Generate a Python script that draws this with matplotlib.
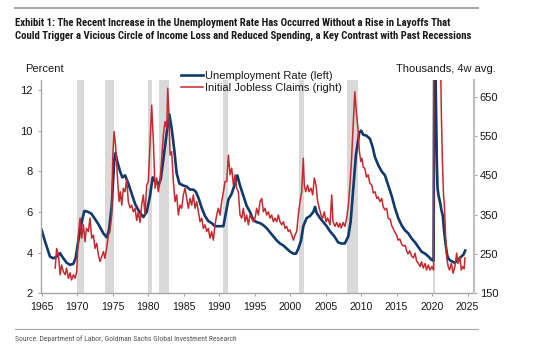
import matplotlib
matplotlib.use("Agg")
import matplotlib.pyplot as plt
from matplotlib import font_manager

# ---- data ----
unemp_year = [1965.0, 1965.47, 1965.94, 1966.17, 1966.64, 1967.11, 1967.58, 1968.05, 1968.52, 1968.99,
              1969.46, 1969.79, 1970.16, 1970.63, 1971.0, 1971.57, 1972.04, 1972.51, 1972.98, 1973.68,
              1974.15, 1974.48, 1974.86, 1975.23, 1975.4, 1975.56, 1976.03, 1976.36, 1976.74, 1977.2,
              1977.67, 1978.15, 1978.6, 1979.08, 1979.32, 1979.79, 1980.26, 1980.63, 1980.96, 1981.43,
              1981.76, 1982.14, 1982.61, 1982.98, 1983.31, 1983.69, 1984.01, 1984.39, 1984.95, 1985.42,
              1985.89, 1986.36, 1986.7, 1987.07, 1987.54, 1988.0, 1988.47, 1988.94, 1989.41, 1990.12,
              1990.59, 1990.96, 1991.29, 1991.76, 1992.23, 1992.56, 1992.93, 1993.4, 1993.87, 1994.34,
              1994.81, 1995.28, 1995.75, 1996.22, 1996.69, 1997.16, 1997.63, 1998.1, 1998.57, 1999.04,
              1999.51, 1999.98, 2000.45, 2000.82, 2001.15, 2001.53, 2001.85, 2002.32, 2002.79, 2003.26,
              2003.5, 2003.73, 2004.2, 2004.67, 2005.14, 2005.61, 2006.22, 2006.77, 2007.2, 2007.7,
              2008.18, 2008.51, 2008.89, 2009.26, 2009.73, 2010.0, 2010.29, 2010.76, 2011.23, 2011.61,
              2011.94, 2012.41, 2012.88, 2013.35, 2013.82, 2014.29, 2014.75, 2015.22, 2015.69, 2016.16,
              2016.63, 2017.1, 2017.6, 2018.1, 2018.5, 2019.0, 2019.5, 2019.9, 2020.2, 2020.3,
              2020.45, 2020.55, 2020.65, 2020.75, 2020.9, 2021.1, 2021.3, 2021.5, 2021.7, 2021.9,
              2022.1, 2022.3, 2022.6, 2022.9, 2023.2, 2023.5, 2023.8, 2024.1, 2024.4, 2024.65]
unemp_rate = [5.1, 4.55, 4.05, 3.8, 3.72, 3.8, 3.97, 3.72, 3.5, 3.4,
              3.45, 3.75, 4.6, 5.5, 6.05, 6.0, 5.9, 5.65, 5.4, 4.95,
              4.75, 5.1, 6.3, 8.6, 8.9, 8.6, 8.0, 7.7, 7.8, 7.4,
              6.9, 6.4, 6.1, 5.85, 5.75, 6.0, 6.8, 7.7, 7.5, 7.35,
              7.6, 8.6, 9.9, 10.8, 10.1, 9.0, 7.9, 7.4, 7.3, 7.25,
              7.1, 7.1, 7.0, 6.7, 6.2, 5.8, 5.55, 5.45, 5.3, 5.3,
              5.3, 6.0, 6.6, 6.9, 7.4, 7.8, 7.3, 6.8, 6.3, 6.0,
              5.6, 5.5, 5.45, 5.35, 5.2, 5.0, 4.8, 4.6, 4.45, 4.35,
              4.2, 4.05, 3.95, 3.95, 4.2, 4.6, 5.3, 5.7, 5.8, 6.0,
              6.25, 5.95, 5.7, 5.5, 5.3, 5.05, 4.8, 4.5, 4.45, 4.45,
              4.8, 5.5, 7.2, 8.8, 9.9, 10.0, 9.8, 9.75, 9.6, 9.2,
              8.7, 8.3, 8.0, 7.8, 7.3, 6.8, 6.2, 5.7, 5.35, 5.1,
              4.95, 4.7, 4.5, 4.25, 4.05, 3.95, 3.8, 3.65, 3.6, 14.7,
              13.3, 11.1, 8.6, 7.2, 6.8, 6.5, 6.1, 5.8, 5.0, 4.4,
              3.9, 3.7, 3.6, 3.55, 3.5, 3.6, 3.7, 3.8, 3.9, 4.1]

claims_year = [1966.9, 1967.1, 1967.35, 1967.6, 1967.8, 1968.05, 1968.3, 1968.5, 1968.75, 1969.0,
               1969.2, 1969.46, 1969.7, 1969.93, 1970.16, 1970.4, 1970.63, 1970.87, 1971.1, 1971.3,
               1971.57, 1971.8, 1972.04, 1972.28, 1972.5, 1972.75, 1972.98, 1973.2, 1973.45, 1973.7,
               1973.9, 1974.15, 1974.39, 1974.6, 1974.86, 1975.0, 1975.19, 1975.4, 1975.65, 1975.9,
               1976.08, 1976.27, 1976.5, 1976.74, 1976.97, 1977.2, 1977.44, 1977.67, 1977.9, 1978.15,
               1978.38, 1978.6, 1978.85, 1979.08, 1979.32, 1979.55, 1979.79, 1980.02, 1980.26, 1980.49,
               1980.73, 1980.96, 1981.2, 1981.43, 1981.67, 1981.9, 1982.14, 1982.37, 1982.61, 1982.75,
               1982.93, 1983.08, 1983.31, 1983.54, 1983.78, 1984.01, 1984.25, 1984.48, 1984.72, 1984.95,
               1985.19, 1985.42, 1985.66, 1985.89, 1986.13, 1986.36, 1986.6, 1986.83, 1987.07, 1987.3,
               1987.54, 1987.77, 1988.0, 1988.24, 1988.47, 1988.71, 1988.94, 1989.18, 1989.41, 1989.65,
               1989.88, 1990.12, 1990.35, 1990.59, 1990.82, 1991.06, 1991.29, 1991.53, 1991.76, 1992.0,
               1992.23, 1992.46, 1992.7, 1992.93, 1993.17, 1993.4, 1993.64, 1993.87, 1994.11, 1994.34,
               1994.58, 1994.81, 1995.05, 1995.28, 1995.52, 1995.75, 1995.99, 1996.22, 1996.46, 1996.69,
               1996.93, 1997.16, 1997.39, 1997.63, 1997.86, 1998.1, 1998.33, 1998.57, 1998.8, 1999.04,
               1999.27, 1999.51, 1999.74, 1999.98, 2000.21, 2000.45, 2000.68, 2000.92, 2001.15, 2001.38,
               2001.62, 2001.85, 2001.99, 2002.18, 2002.46, 2002.65, 2002.93, 2003.17, 2003.4, 2003.64,
               2003.87, 2004.11, 2004.34, 2004.58, 2004.81, 2005.05, 2005.28, 2005.61, 2005.85, 2006.03,
               2006.3, 2006.55, 2006.8, 2007.0, 2007.2, 2007.45, 2007.7, 2007.95, 2008.2, 2008.42,
               2008.65, 2008.88, 2009.1, 2009.35, 2009.55, 2009.75, 2009.95, 2010.1, 2010.3, 2010.5,
               2010.75, 2011.0, 2011.2, 2011.5, 2011.7, 2011.95, 2012.2, 2012.4, 2012.65, 2012.9,
               2013.1, 2013.35, 2013.6, 2013.8, 2014.1, 2014.3, 2014.5, 2014.75, 2015.0, 2015.2,
               2015.45, 2015.7, 2015.95, 2016.2, 2016.4, 2016.6, 2016.85, 2017.1, 2017.35, 2017.6,
               2017.8, 2018.0, 2018.3, 2018.5, 2018.75, 2019.0, 2019.2, 2019.45, 2019.7, 2019.95,
               2020.2, 2020.3, 2020.6, 2021.0, 2021.2, 2021.3, 2021.45, 2021.6, 2021.7, 2021.8,
               2021.9, 2022.05, 2022.25, 2022.45, 2022.7, 2022.95, 2023.2, 2023.45, 2023.65, 2023.9,
               2024.1, 2024.3, 2024.5, 2024.62]
claims_k = [214, 264, 248, 197, 222, 205, 197, 214, 188, 202,
            184, 197, 188, 205, 298, 341, 290, 324, 281, 315,
            307, 341, 290, 298, 264, 277, 248, 231, 243, 256,
            239, 264, 298, 307, 349, 493, 561, 527, 450, 383,
            408, 374, 417, 408, 440, 383, 367, 374, 357, 366,
            335, 357, 330, 374, 400, 350, 425, 434, 535, 628,
            535, 417, 443, 408, 434, 493, 553, 586, 569, 671,
            603, 501, 510, 434, 383, 400, 349, 374, 366, 400,
            417, 391, 366, 391, 374, 400, 366, 383, 357, 332,
            341, 315, 324, 307, 315, 290, 307, 285, 324, 349,
            366, 349, 383, 408, 434, 434, 501, 451, 468, 425,
            451, 417, 408, 349, 341, 366, 332, 349, 324, 349,
            341, 332, 341, 366, 349, 383, 391, 357, 366, 349,
            357, 341, 349, 332, 341, 332, 349, 332, 324, 332,
            315, 320, 307, 311, 298, 285, 298, 307, 349, 383,
            408, 493, 425, 408, 425, 408, 417, 400, 443, 425,
            383, 366, 349, 341, 357, 332, 341, 324, 400, 332,
            320, 330, 318, 328, 316, 330, 320, 340, 374, 425,
            493, 578, 662, 603, 569, 510, 485, 493, 470, 468,
            445, 451, 430, 425, 405, 408, 391, 395, 383, 391,
            370, 362, 366, 340, 338, 322, 315, 305, 298, 285,
            288, 275, 270, 272, 258, 250, 258, 245, 240, 252,
            232, 228, 218, 230, 214, 226, 209, 222, 209, 218,
            209, 3000, 1500, 850, 720, 600, 480, 400, 380, 340,
            290, 240, 218, 209, 226, 201, 218, 252, 226, 243,
            209, 218, 212, 240]

recession_start = [1969.92, 1973.85, 1980.0, 1981.5, 1990.55, 2001.2, 2007.95, 2020.15]
recession_end = [1970.9, 1975.25, 1980.55, 1982.92, 1991.2, 2001.9, 2009.5, 2020.35]

x_ticks = [1965, 1970, 1975, 1980, 1985, 1990, 1995, 2000, 2005, 2010, 2015, 2020, 2025]
left_ticks = [2, 4, 6, 8, 10, 12]
right_ticks = [150, 250, 350, 450, 550, 650]

title_lines = ["Exhibit 1: The Recent Increase in the Unemployment Rate Has Occurred Without a Rise in Layoffs That",
               "Could Trigger a Vicious Circle of Income Loss and Reduced Spending, a Key Contrast with Past Recessions"]
source_text = "Source: Department of Labor, Goldman Sachs Global Investment Research"


def condensed_font(bold):
    # look for a narrow / condensed face among the installed fonts
    prefs = ["Liberation Sans Narrow", "Arial Narrow", "Roboto Condensed", "Noto Sans",
             "Open Sans Condensed", "Open Sans", "DejaVu Sans Condensed", "DejaVu Sans"]
    found = {}
    for f in font_manager.fontManager.ttflist:
        narrowish = ("Narrow" in f.name or "Condensed" in f.name
                     or f.stretch in ("condensed", "semi-condensed"))
        if not narrowish or f.style != "normal":
            continue
        w = f.weight if isinstance(f.weight, int) else (700 if "bold" in str(f.weight) else 400)
        if bold != (w >= 600) or w >= 800:
            continue
        for i, p in enumerate(prefs):
            if f.name.startswith(p):
                found.setdefault(i, f.fname)
                break
        else:
            found.setdefault(99, f.fname)
    if found:
        return font_manager.FontProperties(fname=found[min(found)])
    return font_manager.FontProperties(family="Liberation Sans", weight="bold" if bold else "normal")


# ---- styling ----
plt.rcParams["font.family"] = ["Liberation Sans", "DejaVu Sans"]

blue = "#0f3a6b"
red = "#c62a2f"
grey = "#a6a6a6"
W, H = 550, 349

fig = plt.figure(figsize=(W / 100, H / 100), dpi=100)
ax = fig.add_axes([41 / W, (H - 293.3) / H, (473.7 - 41) / W, (293.3 - 80) / H])
ax2 = ax.twinx()

for s, e in zip(recession_start, recession_end):
    ax.axvspan(s, e, color="#d9d9d9", lw=0, zorder=0)

l1, = ax.plot(unemp_year, unemp_rate, color=blue, lw=1.9, solid_joinstyle="round",
              label="Unemployment Rate (left)")
l2, = ax2.plot(claims_year, claims_k, color=red, lw=1.1, label="Initial Jobless Claims (right)")

ax.set_xlim(1964.9, 2025.85)
ax.set_ylim(2, 12.49)
ax2.set_ylim(150, 692)
ax.set_xticks(x_ticks)
ax.set_yticks(left_ticks)
ax2.set_yticks(right_ticks)

for a in (ax, ax2):
    a.spines["top"].set_visible(False)
    for sp in a.spines.values():
        sp.set_color(grey)
        sp.set_linewidth(1.0)
ax.spines["right"].set_visible(False)
ax2.spines["left"].set_visible(False)
ax2.spines["bottom"].set_visible(False)
ax2.spines["right"].set_linewidth(1.5)
ax2.spines["right"].set_color("#bfbfbf")

ax.tick_params(axis="x", length=2.5, width=0.8, color=grey, pad=3.9, labelsize=7.6, labelcolor="#1a1a1a")
ax.tick_params(axis="y", length=2, width=0.8, color=grey, pad=4.2, labelsize=8, labelcolor="#1a1a1a")
ax2.tick_params(axis="y", length=2.5, width=0.8, color=grey, pad=1.8, labelsize=8, labelcolor="#1a1a1a")

fig.text(25 / W, 1 - 72.5 / H, "Percent", fontsize=8, color="#1a1a1a", va="baseline")
fig.text(496 / W, 1 - 72.5 / H, "Thousands, 4w avg.", fontsize=8, color="#1a1a1a", va="baseline", ha="right")

fig.legend(handles=[l1, l2], loc="upper left", bbox_to_anchor=(181 / W, 1 - 71 / H),
           frameon=False, fontsize=8, borderpad=0, borderaxespad=0, handlelength=2.0,
           handletextpad=0.2, labelspacing=0.2, labelcolor="#1a1a1a")

# header and footer rules
fig.add_artist(plt.Line2D([15 / W, 478 / W], [1 - 7.5 / H] * 2, color=grey, lw=1.4))
fig.add_artist(plt.Line2D([15 / W, 478 / W], [1 - 329.3 / H] * 2, color=grey, lw=0.8))

title_font = condensed_font(True)
src_font = condensed_font(False)
t1 = fig.text(15 / W, 1 - 26 / H, title_lines[0], fontproperties=title_font, fontsize=8,
              color="#1a1a1a", va="baseline")
t2 = fig.text(15 / W, 1 - 38.5 / H, title_lines[1], fontproperties=title_font, fontsize=8,
              color="#1a1a1a", va="baseline")
src = fig.text(15 / W, 1 - 341 / H, source_text, fontproperties=src_font, fontsize=6,
               color="#555555", va="baseline")

# scale header / footer text so they span the same width as in the original
renderer = fig.canvas.get_renderer()
size = 8 * 460 / t2.get_window_extent(renderer).width
t1.set_fontsize(size)
t2.set_fontsize(size)
src.set_fontsize(6 * 221 / src.get_window_extent(renderer).width)

fig.savefig("out.png", dpi=100)
